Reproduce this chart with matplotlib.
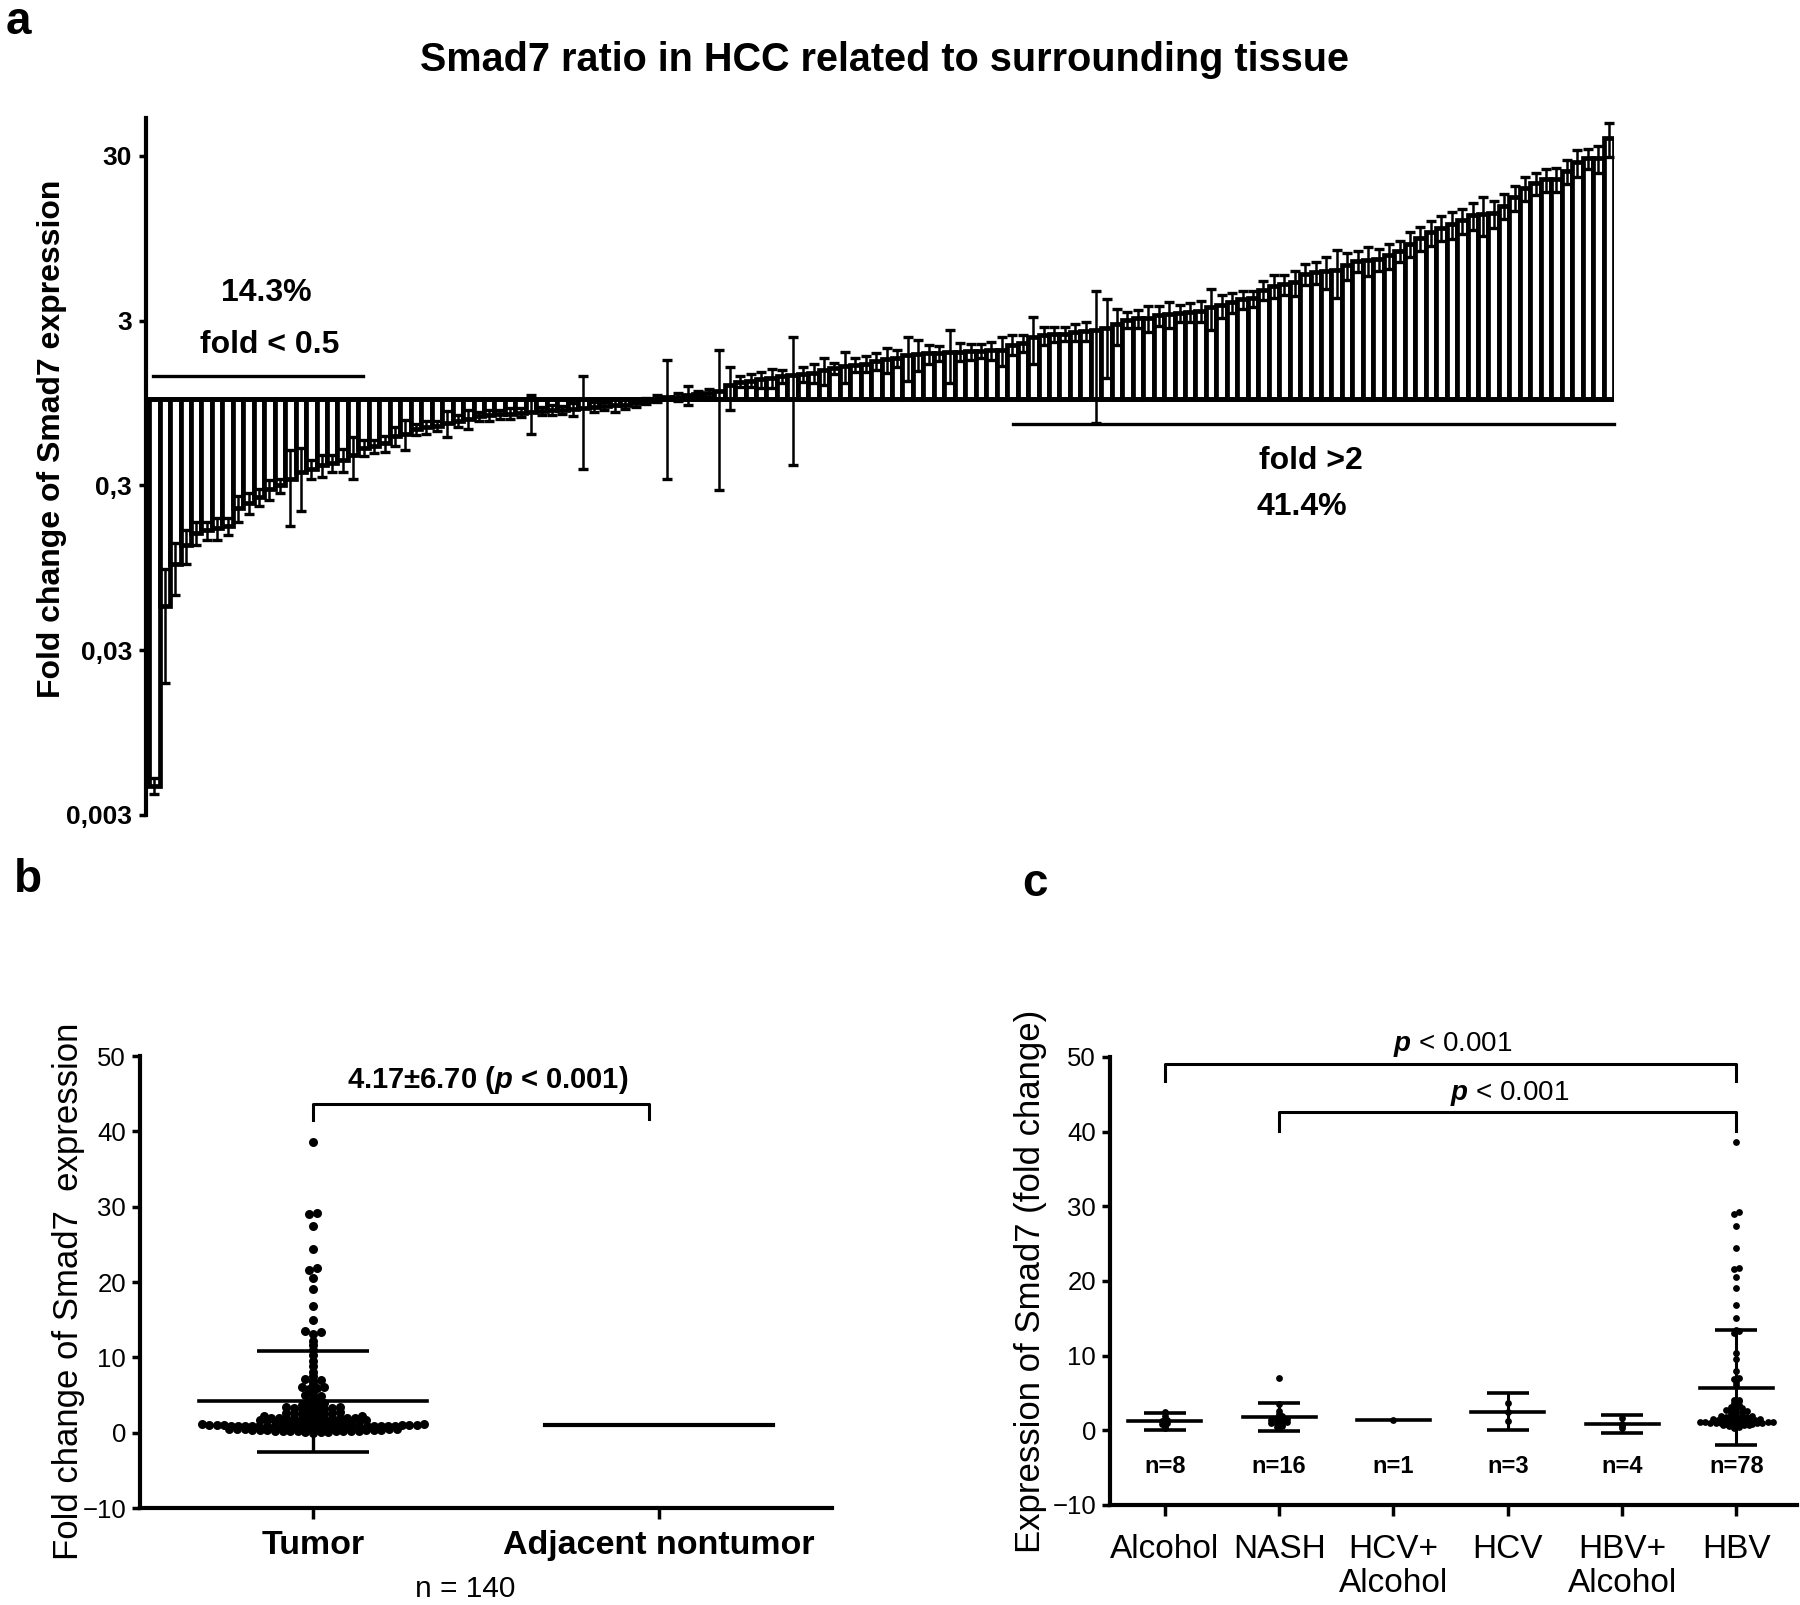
import numpy as np
import matplotlib
matplotlib.use("Agg")
import matplotlib.pyplot as plt
from matplotlib.ticker import NullLocator

plt.rcParams['font.family'] = ['Liberation Sans', 'DejaVu Sans']
plt.rcParams['mathtext.fontset'] = 'custom'
plt.rcParams['mathtext.rm'] = 'Liberation Sans'
plt.rcParams['mathtext.it'] = 'Liberation Sans:italic:bold'
plt.rcParams['mathtext.bf'] = 'Liberation Sans:bold'

# ---- panel a: per-sample fold change (sorted), with SD ----
bar_values = [
    0.0045, 0.056, 0.10, 0.13, 0.155, 0.16, 0.165, 0.17, 0.22, 0.235,
    0.255, 0.285, 0.30, 0.33, 0.36, 0.38, 0.40, 0.41, 0.43, 0.46,
    0.51, 0.52, 0.54, 0.60, 0.62, 0.66, 0.68, 0.69, 0.72, 0.74,
    0.76, 0.79, 0.80, 0.81, 0.82, 0.83, 0.84, 0.85, 0.86, 0.86,
    0.87, 0.88, 0.90, 0.91, 0.92, 0.93, 0.95, 0.98, 1.01, 1.03,
    1.04, 1.06, 1.08, 1.10, 1.13, 1.22, 1.28, 1.30, 1.32, 1.35,
    1.38, 1.40, 1.42, 1.45, 1.50, 1.55, 1.60, 1.62, 1.65, 1.70,
    1.75, 1.78, 1.85, 1.88, 1.90, 1.92, 1.94, 1.95, 1.96, 1.97,
    1.98, 1.99, 2.15, 2.20, 2.40, 2.45, 2.48, 2.50, 2.55, 2.60,
    2.62, 2.70, 2.85, 3.05, 3.10, 3.12, 3.25, 3.30, 3.35, 3.40,
    3.45, 3.65, 3.72, 3.90, 4.05, 4.10, 4.60, 4.90, 5.00, 5.15,
    5.80, 5.90, 6.00, 6.10, 6.50, 6.90, 7.00, 7.10, 7.50, 8.00,
    8.80, 9.50, 10.3, 11.0, 11.6, 12.2, 13.1, 13.3, 13.5, 15.0,
    16.8, 19.1, 20.5, 21.6, 21.8, 24.4, 27.4, 29.0, 29.2, 38.6,
]
bar_sd = [
    0.0005, 0.037, 0.035, 0.03, 0.025, 0.02, 0.025, 0.02, 0.04, 0.035,
    0.03, 0.04, 0.03, 0.16, 0.15, 0.05, 0.06, 0.05, 0.07, 0.13,
    0.06, 0.05, 0.06, 0.08, 0.13, 0.05, 0.06, 0.05, 0.13, 0.06,
    0.10, 0.05, 0.06, 0.05, 0.06, 0.05, 0.22, 0.05, 0.06, 0.05,
    0.08, 0.50, 0.06, 0.05, 0.08, 0.06, 0.05, 0.04, 0.05, 0.70,
    0.06, 0.14, 0.05, 0.06, 0.85, 0.36, 0.10, 0.12, 0.15, 0.18,
    0.12, 1.00, 0.15, 0.20, 0.28, 0.12, 0.35, 0.15, 0.18, 0.20,
    0.30, 0.20, 0.55, 0.40, 0.25, 0.20, 0.68, 0.25, 0.22, 0.20,
    0.25, 0.40, 0.30, 0.25, 0.75, 0.30, 0.25, 0.25, 0.30, 0.35,
    1.90, 1.35, 0.70, 0.35, 0.40, 0.55, 0.45, 0.60, 0.40, 0.45,
    0.50, 1.00, 0.60, 0.55, 0.50, 0.45, 0.60, 0.80, 0.70, 0.90,
    0.85, 0.90, 1.30, 2.00, 1.20, 1.00, 1.40, 1.10, 1.30, 1.20,
    1.50, 1.60, 1.80, 1.90, 2.20, 2.10, 2.40, 3.50, 2.50, 2.60,
    2.80, 3.20, 3.00, 3.40, 3.60, 4.00, 5.00, 4.00, 5.50, 9.00,
]
a_ticks = [0.003, 0.03, 0.3, 3, 30]
a_ticklabels = ['0,003', '0,03', '0,3', '3', '30']

# ---- panel b ----
b_categories = ['Tumor', 'Adjacent nontumor']
tumor_mean, tumor_sd = 4.17, 6.70
nontumor_value = 1.0

# ---- panel c ----
c_categories = ['Alcohol', 'NASH', 'HCV+\nAlcohol', 'HCV', 'HBV+\nAlcohol', 'HBV']
c_n_labels = ['n=8', 'n=16', 'n=1', 'n=3', 'n=4', 'n=78']
alcohol_vals = [0.3, 0.6, 0.9, 1.0, 1.2, 1.4, 1.9, 2.4]
nash_vals = [0.4, 0.6, 0.8, 0.9, 1.0, 1.1, 1.2, 1.3, 1.4, 1.5, 1.7, 1.9, 2.2, 2.6, 3.5, 7.0]
hcv_alc_vals = [1.4]
hcv_vals = [1.3, 2.5, 3.7]
hbv_alc_vals = [0.3, 0.6, 0.9, 1.6]
hbv_vals = [
    38.6, 29.2, 29.0, 27.4, 24.4, 21.8, 21.6, 20.5, 19.1, 16.8, 15.0, 13.5, 13.3,
    13.1, 10.3, 9.5, 8.0, 7.0, 6.9, 6.5, 6.1,
    4.1, 4.0, 3.9, 3.6, 3.4, 3.3, 3.1, 3.0, 2.9, 2.7, 2.6, 2.5, 2.5, 2.4, 2.2,
    2.0, 1.98, 1.95, 1.9, 1.85,
    1.8, 1.7, 1.65, 1.6, 1.55, 1.5, 1.45, 1.4, 1.38, 1.35, 1.3, 1.28, 1.25,
    1.2, 1.15, 1.1, 1.08, 1.05, 1.03, 1.01, 0.98, 0.95, 0.92, 0.9, 0.88, 0.86,
    0.84, 0.82, 0.80, 0.76, 0.72, 0.68, 0.62, 0.55, 0.46, 0.38, 0.30,
]
c_means = [1.2, 1.8, 1.4, 2.5, 0.8, 5.7]
c_sds = [1.1, 1.9, 0.0, 2.5, 1.2, 7.7]

W, H = 1800, 1605
fig = plt.figure(figsize=(18, 16.05), dpi=100)


def fx(px):
    return px / W


def fy(py):
    return 1 - py / H


def row_offsets(values, xscale, yscale, diam, row_h=0.45, gap=0.8, max_half=0.32):
    # GraphPad-style scatter: values binned into rows, dots spread side by side,
    # rows squeezed so they never get wider than the column
    values = np.asarray(values, dtype=float)
    offsets = np.zeros(len(values))
    bins = np.floor(values * yscale / (row_h * diam)).astype(int)
    for b in np.unique(bins):
        idx = np.where(bins == b)[0]
        idx = idx[np.argsort(values[idx])]
        n = len(idx)
        step = gap * diam / xscale
        if n > 1:
            step = min(step, 2 * max_half / (n - 1))
        for k, j in enumerate(idx):
            offsets[j] = ((k + 1) // 2) * (1 if k % 2 else -1) * step
        if n % 2 == 0:
            offsets[idx] -= step / 2
    return offsets


# ================= panel a =================
ax_a = fig.add_axes([fx(146), fy(815), fx(1614) - fx(146), fy(118) - fy(815)])
vals = np.array(bar_values)
sd = np.array(bar_sd)
xa = np.arange(len(vals))
ax_a.bar(xa, vals - 1, bottom=1, width=1.0, color='white', edgecolor='black',
         linewidth=3.4, zorder=2)
ax_a.errorbar(xa, vals, yerr=[sd, sd], fmt='none', ecolor='black', elinewidth=1.8,
              capsize=3.8, capthick=2.4, zorder=3)
ax_a.axhline(1, color='black', lw=3.4, zorder=4)
ax_a.set_yscale('log')
ax_a.set_ylim(0.003, 51)
ax_a.set_xlim(-0.8, 139.5)
ax_a.set_yticks(a_ticks)
ax_a.set_yticklabels(a_ticklabels, fontsize=19, fontweight='bold')
ax_a.yaxis.set_minor_locator(NullLocator())
ax_a.set_xticks([])
for s in ['top', 'right', 'bottom']:
    ax_a.spines[s].set_visible(False)
ax_a.spines['left'].set_linewidth(3)
ax_a.tick_params(axis='y', length=5, width=2.5, pad=5)
ax_a.set_ylabel('Fold change of Smad7 expression', fontsize=23, fontweight='bold')
ax_a.yaxis.set_label_coords(-0.054, 0.54)

ax_a.plot([-0.13, 19.9], [1.38, 1.38], color='black', lw=2.4, clip_on=False)
ax_a.plot([82.1, 139.5], [0.705, 0.705], color='black', lw=2.4, clip_on=False)
ax_a.text(10.7, 4.45, '14.3%', fontsize=23, fontweight='bold', ha='center', va='center')
ax_a.text(11.0, 2.15, 'fold < 0.5', fontsize=23, fontweight='bold', ha='center', va='center')
ax_a.text(110.5, 0.42, 'fold >2', fontsize=23, fontweight='bold', ha='center', va='center')
ax_a.text(109.7, 0.221, '41.4%', fontsize=23, fontweight='bold', ha='center', va='center')

fig.text(fx(884), fy(60), 'Smad7 ratio in HCC related to surrounding tissue',
         fontsize=28.5, fontweight='bold', ha='center', va='center')
fig.text(fx(18), fy(22), 'a', fontsize=33, fontweight='bold', ha='center', va='center')

# ================= panel b =================
ax_b = fig.add_axes([fx(140), fy(1508), fx(832) - fx(140), fy(1056) - fy(1508)])
ax_b.set_xlim(-0.5, 1.5)
ax_b.set_ylim(-10, 50)
offs_b = row_offsets(vals, 692 / 2.0, 452 / 60.0, 9.5)
ax_b.scatter(offs_b, vals, s=42, color='black', linewidths=0, zorder=3)
ax_b.plot([-0.33, 0.33], [tumor_mean, tumor_mean], color='black', lw=2.6, zorder=4)
ax_b.errorbar(0, tumor_mean, yerr=tumor_sd, fmt='none', ecolor='black', elinewidth=2.4,
              capsize=40, capthick=2.6, zorder=4)
ax_b.plot([0.67, 1.33], [nontumor_value, nontumor_value], color='black', lw=3, zorder=4)
ax_b.plot([0, 0, 0.97, 0.97], [41.5, 43.6, 43.6, 41.6], color='black', lw=2.2, clip_on=False)
ax_b.text(0.506, 46.8, '4.17±6.70 ($p$ < 0.001)', fontsize=21, fontweight='bold',
          ha='center', va='center')
ax_b.set_xticks([0, 1])
ax_b.set_xticklabels(b_categories, fontsize=24.5, fontweight='bold')
ax_b.set_yticks(np.arange(-10, 51, 10))
ax_b.tick_params(axis='y', labelsize=18.5, length=6, width=2.5, pad=4)
ax_b.tick_params(axis='x', length=8, width=2.5, pad=8)
for s in ['top', 'right']:
    ax_b.spines[s].set_visible(False)
for s in ['left', 'bottom']:
    ax_b.spines[s].set_linewidth(3)
ax_b.set_ylabel('Fold change of Smad7  expression', fontsize=25)
ax_b.yaxis.set_label_coords(-0.08, 0.48)
fig.text(fx(465), fy(1589), 'n = 140', fontsize=21.5, ha='center', va='center')
fig.text(fx(28), fy(880), 'b', fontsize=33, fontweight='bold', ha='center', va='center')

# ================= panel c =================
ax_c = fig.add_axes([fx(1110), fy(1505), fx(1797) - fx(1110), fy(1057) - fy(1505)])
ax_c.set_xlim(-0.48, 5.53)
ax_c.set_ylim(-10, 50)
xs_c = 687 / 6.01
ys_c = 448 / 60.0
groups = [alcohol_vals, nash_vals, hcv_alc_vals, hcv_vals, hbv_alc_vals, hbv_vals]
for i, g in enumerate(groups):
    offs = row_offsets(g, xs_c, ys_c, 6.5, max_half=0.33)
    ax_c.scatter(i + offs, g, s=24, color='black', linewidths=0, zorder=3)
    ax_c.plot([i - 0.32, i + 0.32], [c_means[i], c_means[i]], color='black', lw=2.6, zorder=4)
    if c_sds[i] > 0:
        ax_c.errorbar(i, c_means[i], yerr=c_sds[i], fmt='none', ecolor='black',
                      elinewidth=2.2, capsize=15, capthick=2.6, zorder=4)
    ax_c.text(i, -4.9, c_n_labels[i], fontsize=17, fontweight='bold', ha='center', va='center')

ax_c.plot([0, 0, 5, 5], [46.8, 49.1, 49.1, 46.8], color='black', lw=2.2, clip_on=False)
ax_c.plot([1, 1, 5, 5], [40.1, 42.6, 42.6, 40.1], color='black', lw=2.2, clip_on=False)
ax_c.text(2.52, 51.7, '$p$ < 0.001', fontsize=20, ha='center', va='center')
ax_c.text(3.02, 45.1, '$p$ < 0.001', fontsize=20, ha='center', va='center')

ax_c.set_xticks(range(len(c_categories)))
ax_c.set_xticklabels(c_categories, fontsize=24, linespacing=1.1)
ax_c.set_yticks(np.arange(-10, 51, 10))
ax_c.tick_params(axis='y', labelsize=18.5, length=6, width=2.5, pad=4)
ax_c.tick_params(axis='x', length=8, width=2.5, pad=13)
for s in ['top', 'right']:
    ax_c.spines[s].set_visible(False)
for s in ['left', 'bottom']:
    ax_c.spines[s].set_linewidth(3)
ax_c.set_ylabel('Expression of Smad7 (fold change)', fontsize=25)
ax_c.yaxis.set_label_coords(-0.091, 0.5)
fig.text(fx(1035), fy(884), 'c', fontsize=33, fontweight='bold', ha='center', va='center')

fig.savefig('out.png', dpi=100)
